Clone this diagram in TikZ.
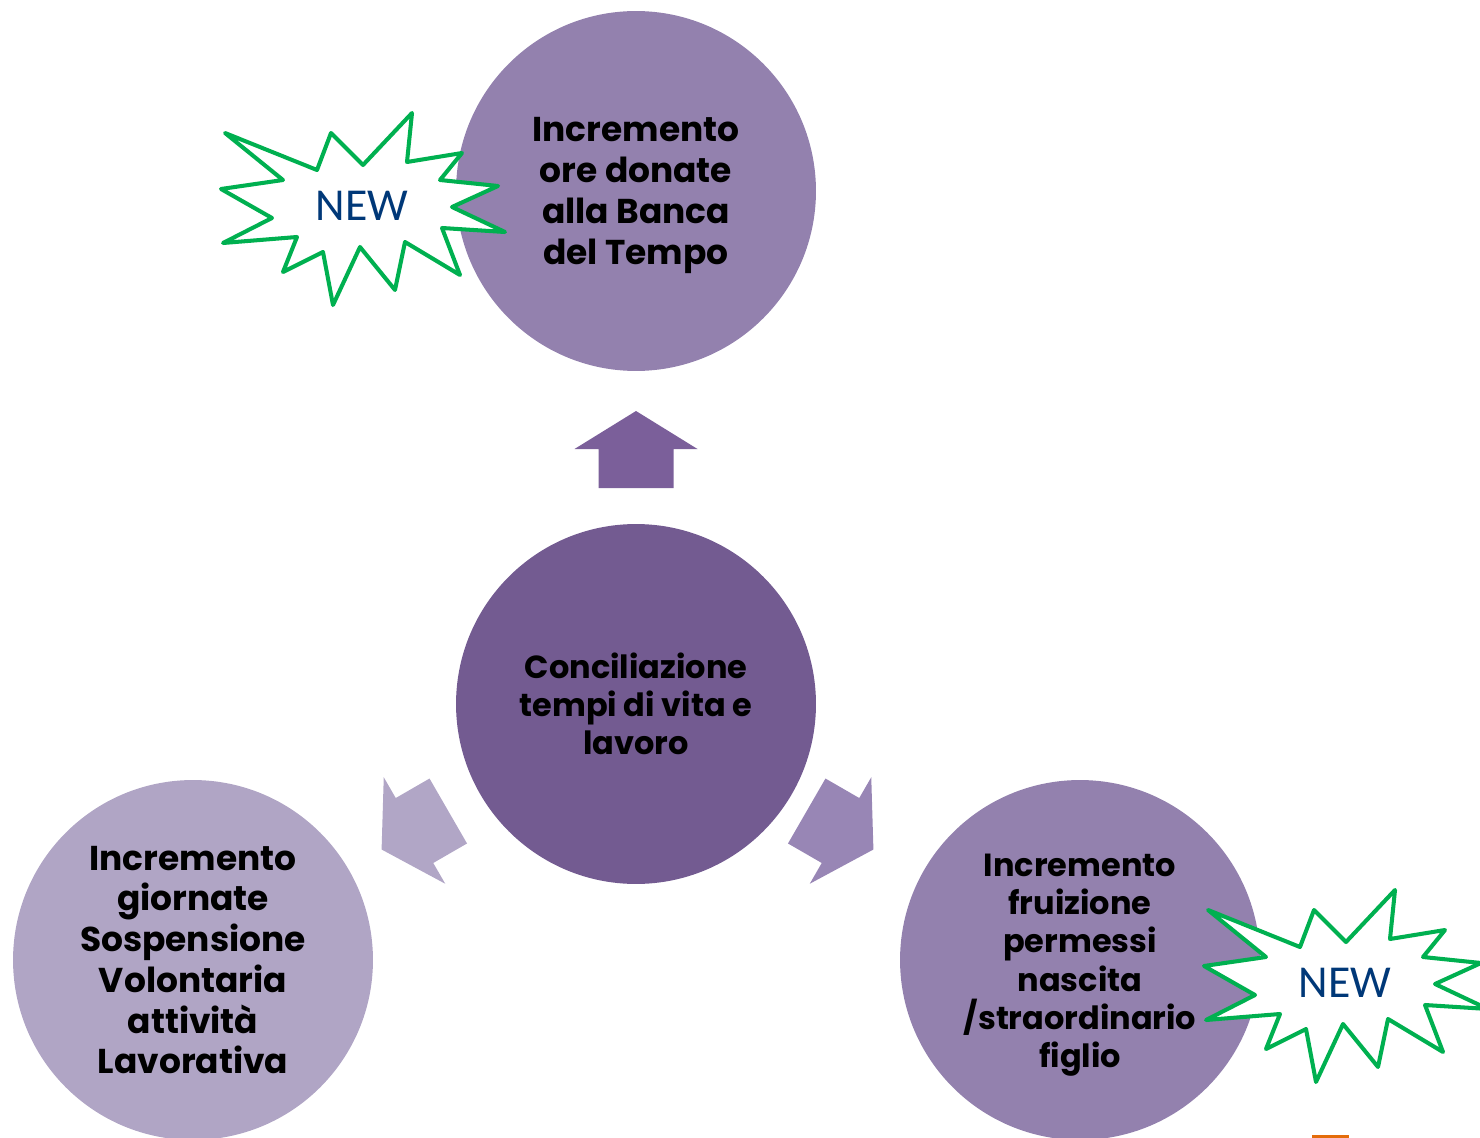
\documentclass[tikz,border=0pt]{standalone}
\usepackage{fontspec}
\setmainfont{Poppins}
\newfontfamily\newtagfont{Carlito}

\definecolor{ringmid}{RGB}{147,129,174}
\definecolor{ringcore}{RGB}{115,91,145}
\definecolor{ringpale}{RGB}{176,165,197}
\definecolor{arrowup}{RGB}{123,95,154}
\definecolor{arrowleft}{RGB}{177,166,198}
\definecolor{arrowright}{RGB}{152,134,181}
\definecolor{burstgreen}{RGB}{0,176,80}
\definecolor{newblue}{RGB}{0,56,120}
\definecolor{tagorange}{RGB}{228,108,10}

\newcommand{\toppad}[1]{\rule{0pt}{#1}}

\begin{document}
\begin{tikzpicture}[x=0.02cm,y=-0.02cm]
                \tikzstyle{bubble}=[circle,minimum size=7.2cm,inner sep=0pt,align=center,text=black,font=\bfseries\fontsize{19.6}{23.2}\selectfont]
                \tikzstyle{bubblesmall}=[bubble,font=\bfseries\fontsize{18.2}{21.8}\selectfont]
                \tikzstyle{burst}=[draw=burstgreen,fill=white,line width=2.3pt,line join=round]
                \tikzstyle{newtag}=[inner sep=0pt,text=newblue,font=\newtagfont\fontsize{26}{30}\selectfont]
                \clip (0,0) rectangle (1480,1138);
                        \node[bubble,fill=ringmid] (C-top) at (636,191) {\toppad{19pt}Incremento\\ore donate\\alla Banca\\del Tempo};
                        \node[bubblesmall,fill=ringcore] (C-core) at (636,704) {Conciliazione\\tempi di vita e\\lavoro};
                        \node[bubble,fill=ringpale] (C-left) at (193,960) {Incremento\\giornate\\Sospensione\\Volontaria\\attività\\Lavorativa};
                        \node[bubblesmall,fill=ringmid] (C-right) at (1080,960) {\toppad{18.5pt}Incremento\\fruizione\\permessi\\nascita\\/straordinario\\figlio};

                    \foreach \pos/\ang/\col in {{(636,449)}/0/arrowup, {(414.5,830.5)}/120/arrowleft, {(840.5,830.5)}/-120/arrowright}
                        \fill[\col,shift={\pos},rotate=\ang] (0,-38) -- (61.5,0) -- (37.5,0) -- (37.5,39) -- (-37.5,39) -- (-37.5,0) -- (-61.5,0) -- cycle;

                    \foreach \x/\y/\n in {362/206/A, 1345/983/B}
                    {
                        \begin{scope}[shift={(\x,\y)}]
                        \draw[burst] (-137,-73) -- (-45,-36) -- (-31,-73) -- (1,-41) -- (50,-93) -- (45,-44) -- (100,-53) -- (78,-26) -- (136,-20) -- (90,1) -- (143,26) -- (80,22) -- (98,69) -- (43,36) -- (33,84) -- (-2,41) -- (-29,99) -- (-39,46) -- (-79,66) -- (-65,31) -- (-139,37) -- (-90,12) -- (-141,-17) -- (-79,-26) -- cycle;
                        \node[newtag] (new-\n) at (0,0) {NEW};
                        \end{scope}
                    }
                \fill[tagorange] (1312,1135) rectangle (1349,1139);
            \end{tikzpicture}
\end{document}
